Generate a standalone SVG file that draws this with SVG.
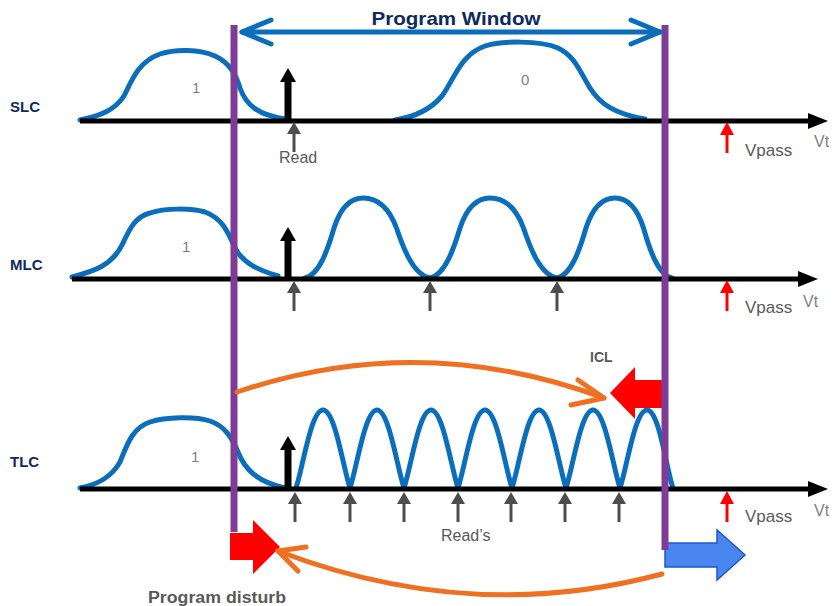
<svg xmlns="http://www.w3.org/2000/svg" width="835" height="606" viewBox="0 0 835 606">
<style>
.bell{fill:none;stroke:#0a6ebd;stroke-width:5;stroke-linejoin:round;stroke-linecap:round}
.axis{stroke:#000;stroke-width:5}
.purple{stroke:#7e3c96;stroke-width:7}
.lbl{font-family:"Liberation Sans",Arial,sans-serif;font-weight:bold;fill:#0d2a5e;font-size:15px}
.txt{font-family:"Liberation Sans",Arial,sans-serif;fill:#595959;font-size:16px}
.num{font-family:"Liberation Sans",Arial,sans-serif;fill:#808080;font-size:15px}
.vt{font-family:"Liberation Sans",Arial,sans-serif;fill:#7f7f7f;font-size:16px}
.orange{fill:none;stroke:#f07022;stroke-width:5;stroke-linecap:round;stroke-linejoin:round}
.blk{stroke:#000;stroke-width:7}
.gry{stroke:#4d4d4d;stroke-width:3}
.red{stroke:#ff0000;stroke-width:3}
</style>

<g id="curves">
<path class="bell" d="M80,120 C100,116 115,110 124,96 C132,80 138,62 160,54 C175,49 200,49 215,56 C230,63 236,75 240,88 C246,105 258,115 285,119"/>
<path class="bell" d="M395,120 C415,117 430,110 442,96 C455,78 460,55 485,46 C500,41 540,40 558,48 C575,56 580,72 590,88 C600,104 615,114 645,119"/>
<path class="bell" d="M72,277 C95,271 112,265 122,245 C130,228 135,217 150,213 C165,208 190,208 205,212 C222,218 228,232 235,248 C243,263 258,270 278,276"/>
<path class="bell" d="M305,278 C319.5,275 328.2,248 334,228 C339.8,210 348.5,198 363,198 C379.75,198 389.8,210 396.5,228 C403.2,248 413.25,275 430,278 C445,275 454,248 460,228 C466,210 475,198 490,198 C506.75,198 516.8,210 523.5,228 C530.2,248 540.25,275 557,278 C571.5,275 580.2,248 586,228 C591.8,210 600.5,198 615,198 C629.25,198 637.8,210 643.5,228 C649.2,248 657.75,275 672,278"/>
<path class="bell" d="M80,488 C100,484 112,476 120,462 C127,445 132,428 150,422 C165,417 195,416 210,421 C225,426 232,438 238,452 C245,470 258,482 285,488"/>
<path class="bell" d="M296,488 C302.75,468.5 310.85,410 323,410 C335.15,410 343.25,468.5 350,488 C356.75,468.5 364.85,410 377,410 C389.15,410 397.25,468.5 404,488 C410.75,468.5 418.85,410 431,410 C443.15,410 451.25,468.5 458,488 C464.75,468.5 472.85,410 485,410 C497.15,410 505.25,468.5 512,488 C518.75,468.5 526.85,410 539,410 C551.15,410 559.25,468.5 566,488 C572.75,468.5 580.85,410 593,410 C605.15,410 613.25,468.5 620,488 C626.75,468.5 634.85,410 647,410 C659.15,410 666.25,468.5 673,488"/>
</g>

<g id="axes">
<line class="axis" x1="80" y1="121" x2="812" y2="121"/>
<polygon points="808,113 828,121 808,129" fill="#000"/>
<line class="axis" x1="72" y1="279" x2="802" y2="279"/>
<polygon points="798,271 818,279 798,287" fill="#000"/>
<line class="axis" x1="80" y1="489" x2="812" y2="489"/>
<polygon points="808,481 828,489 808,497" fill="#000"/>
</g>

<g id="markers">
<line class="blk" x1="288" y1="121" x2="288" y2="80"/>
<polygon points="280,82 288,68 296,82" fill="#000"/>
<line class="blk" x1="288" y1="279" x2="288" y2="239"/>
<polygon points="280,241 288,227 296,241" fill="#000"/>
<line class="blk" x1="288" y1="489" x2="288" y2="448"/>
<polygon points="280,450 288,436 296,450" fill="#000"/>

<g fill="#4d4d4d">
<line class="gry" x1="294" y1="152" x2="294" y2="132"/><polygon points="287,134 294,122 301,134"/>
<line class="gry" x1="294" y1="311" x2="294" y2="291"/><polygon points="287,293 294,281 301,293"/>
<line class="gry" x1="430" y1="311" x2="430" y2="291"/><polygon points="423,293 430,281 437,293"/>
<line class="gry" x1="557" y1="311" x2="557" y2="291"/><polygon points="550,293 557,281 564,293"/>
<line class="gry" x1="295" y1="522" x2="295" y2="502"/><polygon points="288,504 295,492 302,504"/>
<line class="gry" x1="350" y1="522" x2="350" y2="502"/><polygon points="343,504 350,492 357,504"/>
<line class="gry" x1="404" y1="522" x2="404" y2="502"/><polygon points="397,504 404,492 411,504"/>
<line class="gry" x1="458" y1="522" x2="458" y2="502"/><polygon points="451,504 458,492 465,504"/>
<line class="gry" x1="511" y1="522" x2="511" y2="502"/><polygon points="504,504 511,492 518,504"/>
<line class="gry" x1="565" y1="522" x2="565" y2="502"/><polygon points="558,504 565,492 572,504"/>
<line class="gry" x1="619" y1="522" x2="619" y2="502"/><polygon points="612,504 619,492 626,504"/>
</g>

<g fill="#ff0000">
<line class="red" x1="727" y1="153" x2="727" y2="133"/><polygon points="720,135 727,122 734,135"/>
<line class="red" x1="727" y1="311" x2="727" y2="291"/><polygon points="720,293 727,280 734,293"/>
<line class="red" x1="727" y1="522" x2="727" y2="502"/><polygon points="720,504 727,491 734,504"/>
</g>
</g>

<g id="icl-arrow">
<polygon points="610,393 635,367 635,380 665,380 665,408 635,408 635,419" fill="#ff0000"/>
</g>

<g id="pd-arrow">
<polygon points="230,533 253,533 253,520 280,547 253,574 253,560 230,560" fill="#ff0000"/>
</g>

<g id="blue-arrow">
<polygon points="665,543 717,543 717,530 745,555 717,580 717,567 665,567" fill="#4a86f0" stroke="#2255cc" stroke-width="1.5"/>
</g>

<g id="window-lines">
<line class="purple" x1="234" y1="25" x2="234" y2="532"/>
<line class="purple" x1="665" y1="25" x2="665" y2="550"/>
</g>

<g id="connectors">
<g stroke="#0a6ebd" stroke-width="5" fill="none" stroke-linecap="round" stroke-linejoin="round">
<line x1="242" y1="32" x2="660" y2="32"/>
<polyline points="271,20 242,32 271,44"/>
<polyline points="631,20 660,32 631,44"/>
</g>
<path class="orange" d="M237,392 Q420,330 604,398"/>
<polyline class="orange" points="578,380 604,398 571,405"/>
<path class="orange" d="M662,574 Q471,625 278,551"/>
<polyline class="orange" points="306,547 278,551 298,571"/>
</g>

<g id="labels">
<text x="456" y="25" text-anchor="middle" class="lbl" style="font-size:18px" textLength="169" lengthAdjust="spacingAndGlyphs">Program Window</text>
<text x="10" y="112" class="lbl">SLC</text>
<text x="10" y="270" class="lbl">MLC</text>
<text x="10" y="467" class="lbl">TLC</text>
<text x="192" y="93" class="num">1</text>
<text x="521" y="85" class="num">0</text>
<text x="182" y="252" class="num">1</text>
<text x="191" y="462" class="num">1</text>
<text x="279" y="163" class="txt">Read</text>
<text x="441" y="541" class="txt">Read’s</text>
<text x="745" y="156" class="txt" style="font-size:17px">Vpass</text>
<text x="745" y="313" class="txt" style="font-size:17px">Vpass</text>
<text x="745" y="522" class="txt" style="font-size:17px">Vpass</text>
<text x="814" y="147" class="vt">Vt</text>
<text x="803" y="307" class="vt">Vt</text>
<text x="814" y="516" class="vt">Vt</text>
<text x="590" y="362" class="lbl" style="fill:#595959;font-size:14px">ICL</text>
<text x="148" y="603" class="lbl" style="fill:#595959;font-size:16px" textLength="138" lengthAdjust="spacingAndGlyphs">Program disturb</text>
</g>
</svg>
